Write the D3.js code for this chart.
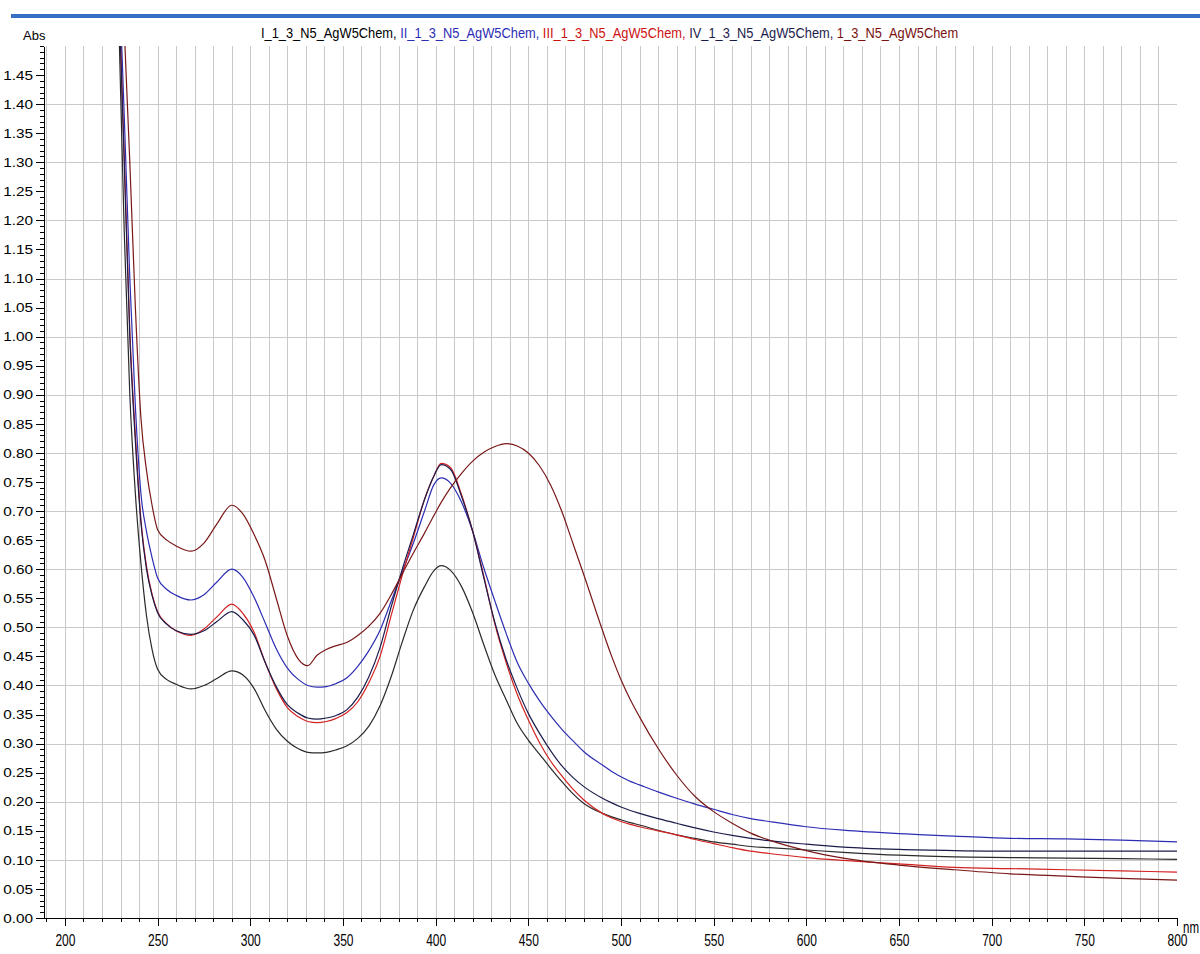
<!DOCTYPE html>
<html>
<head>
<meta charset="utf-8">
<script src="https://cdn.jsdelivr.net/npm/d3@7"></script>
<style>
  body { margin: 0; background: #fff; }
  svg { display: block; font-family: "Liberation Sans", Arial, sans-serif; }
  .grid line { stroke: #c9c9c9; stroke-width: 1; shape-rendering: crispEdges; }
  .axis path, .axis line { stroke: #000; shape-rendering: crispEdges; }
  .axis text { fill: #000; }
</style>
</head>
<body>
<div id="chart"></div>
<script>
// Wavelength grid (nm) shared by all spectra
var wavelengths = [226, 229, 232, 235, 238, 241, 244, 247, 250, 255, 260, 268, 275, 282, 290, 296,
    302, 308, 314, 320, 326, 331, 336, 341, 346, 352, 358, 364, 370, 376, 382, 388, 394, 399,
    403, 408, 414, 420, 426, 432, 438, 444, 450, 456, 462, 468, 474, 480, 490, 495, 500, 505, 510, 520,
    530, 540, 550, 560, 570, 580, 600, 620, 650, 680, 710, 740, 770, 800];

// Absorbance of each sample
var absI = [1.90, 1.55, 1.18, 0.90, 0.73, 0.61, 0.52, 0.462, 0.428, 0.410, 0.402, 0.394, 0.400, 0.412, 0.425, 0.418,
    0.395, 0.357, 0.325, 0.304, 0.291, 0.285, 0.284, 0.285, 0.289, 0.296, 0.309, 0.330, 0.365, 0.415, 0.475, 0.530, 0.570, 0.597,
    0.606, 0.598, 0.570, 0.525, 0.470, 0.418, 0.376, 0.335, 0.306, 0.282, 0.258, 0.235, 0.214, 0.197, 0.180, 0.174, 0.169, 0.164, 0.160, 0.151,
    0.143, 0.137, 0.131, 0.127, 0.123, 0.121, 0.117, 0.113, 0.108, 0.105, 0.104, 0.103, 0.102, 0.101];

var absII = [2.00, 1.65, 1.38, 1.10, 0.88, 0.73, 0.665, 0.620, 0.585, 0.565, 0.555, 0.547, 0.556, 0.578, 0.600, 0.586,
    0.552, 0.508, 0.463, 0.430, 0.410, 0.400, 0.397, 0.398, 0.403, 0.413, 0.433, 0.460, 0.495, 0.545, 0.595, 0.645, 0.700, 0.745,
    0.757, 0.748, 0.715, 0.665, 0.602, 0.545, 0.490, 0.440, 0.404, 0.374, 0.348, 0.325, 0.305, 0.286, 0.263, 0.252, 0.243, 0.235, 0.229, 0.217,
    0.206, 0.196, 0.187, 0.178, 0.171, 0.166, 0.157, 0.151, 0.145, 0.141, 0.137, 0.136, 0.134, 0.131];

var absIII = [1.95, 1.60, 1.31, 1.01, 0.83, 0.685, 0.605, 0.557, 0.527, 0.506, 0.494, 0.486, 0.497, 0.518, 0.540, 0.524,
    0.492, 0.440, 0.395, 0.362, 0.346, 0.338, 0.336, 0.338, 0.343, 0.353, 0.372, 0.405, 0.450, 0.520, 0.590, 0.655, 0.720, 0.760,
    0.782, 0.775, 0.728, 0.665, 0.588, 0.505, 0.440, 0.385, 0.341, 0.302, 0.270, 0.245, 0.222, 0.203, 0.180, 0.172, 0.166, 0.161, 0.157, 0.150,
    0.143, 0.135, 0.128, 0.121, 0.115, 0.111, 0.104, 0.099, 0.093, 0.087, 0.085, 0.083, 0.081, 0.079];

var absIV = [1.95, 1.60, 1.30, 1.00, 0.82, 0.68, 0.60, 0.555, 0.525, 0.505, 0.494, 0.488, 0.494, 0.510, 0.527, 0.513,
    0.487, 0.440, 0.398, 0.367, 0.352, 0.344, 0.342, 0.344, 0.348, 0.358, 0.380, 0.415, 0.465, 0.535, 0.600, 0.660, 0.720, 0.760,
    0.780, 0.772, 0.725, 0.665, 0.585, 0.508, 0.445, 0.395, 0.352, 0.318, 0.288, 0.262, 0.242, 0.226, 0.206, 0.198, 0.191, 0.185, 0.180, 0.171,
    0.163, 0.155, 0.148, 0.142, 0.137, 0.133, 0.127, 0.122, 0.118, 0.116, 0.115, 0.115, 0.115, 0.115];

var absV = [2.10, 1.80, 1.53, 1.30, 1.05, 0.86, 0.77, 0.71, 0.668, 0.650, 0.640, 0.631, 0.645, 0.678, 0.710, 0.695,
    0.660, 0.615, 0.550, 0.485, 0.445, 0.434, 0.452, 0.462, 0.468, 0.474, 0.486, 0.502, 0.524, 0.556, 0.592, 0.628, 0.662, 0.692,
    0.715, 0.740, 0.765, 0.786, 0.801, 0.811, 0.816, 0.812, 0.800, 0.778, 0.745, 0.700, 0.645, 0.590, 0.495, 0.450, 0.410, 0.376, 0.346, 0.292,
    0.246, 0.209, 0.183, 0.163, 0.146, 0.134, 0.116, 0.103, 0.091, 0.083, 0.076, 0.072, 0.068, 0.065];

var seriesNames = ['I_1_3_N5_AgW5Chem', 'II_1_3_N5_AgW5Chem', 'III_1_3_N5_AgW5Chem', 'IV_1_3_N5_AgW5Chem', '1_3_N5_AgW5Chem'];
var seriesValues = [absI, absII, absIII, absIV, absV];
var lineColors = ['#2a2a2a', '#2d2db4', '#d42222', '#1c1c4c', '#7a1818'];
var titleColors = ['#000000', '#2d2db4', '#cc1111', '#1c1c4c', '#7a1010'];

var xMajorTicks = d3.range(200, 801, 50);
var xMinorTicks = d3.range(190, 801, 10);
var yMajorTicks = d3.range(0, 30).map((i) => i * 5 / 100);
var yMinorTicks = d3.range(0, 151).map((i) => i / 100);
var xGridTicks = d3.range(190, 800, 10);
var yGridTicks = d3.range(1, 15).map((i) => i / 10);

var svgWidth = 1200;
var svgHeight = 954;

var svg = d3.select('#chart')
    .append('svg')
    .attr('width', svgWidth)
    .attr('height', svgHeight);

// Plot box
var plot = { left: 44, right: 1177, top: 46, bottom: 918 };

var xScale = d3.scaleLinear()
    .domain([188.7, 800])
    .range([plot.left, plot.right]);

var yScale = d3.scaleLinear()
    .domain([0, 1.5])
    .range([plot.bottom, plot.top]);

// Blue band at the top
svg.append('rect')
    .attr('x', 11)
    .attr('y', 14)
    .attr('width', svgWidth - 11)
    .attr('height', 4)
    .attr('fill', '#3570c6');

// Grid
var grid = svg.append('g').attr('class', 'grid');

grid.selectAll('.vgrid')
    .data(xGridTicks)
    .enter()
    .append('line')
    .attr('x1', (d) => Math.round(xScale(d)) + 0.5)
    .attr('x2', (d) => Math.round(xScale(d)) + 0.5)
    .attr('y1', plot.top)
    .attr('y2', plot.bottom);

grid.selectAll('.hgrid')
    .data(yGridTicks)
    .enter()
    .append('line')
    .attr('x1', plot.left)
    .attr('x2', plot.right)
    .attr('y1', (d) => Math.round(yScale(d)) + 0.5)
    .attr('y2', (d) => Math.round(yScale(d)) + 0.5);

// Spectra
svg.append('clipPath')
    .attr('id', 'plotClip')
    .append('rect')
    .attr('x', plot.left)
    .attr('y', plot.top)
    .attr('width', plot.right - plot.left)
    .attr('height', plot.bottom - plot.top);

var line = d3.line()
    .x((d) => xScale(d[0]))
    .y((d) => yScale(d[1]))
    .curve(d3.curveMonotoneX);

var lineGroup = svg.append('g').attr('clip-path', 'url(#plotClip)');

seriesValues.forEach((values, i) => {
    lineGroup.append('path')
        .datum(wavelengths.map((w, j) => [w, values[j]]))
        .attr('d', line)
        .attr('fill', 'none')
        .attr('stroke', lineColors[i])
        .attr('stroke-width', 1.2);
});

// Axes: minor ticks first, then the labelled major ticks
svg.append('g')
    .attr('class', 'axis')
    .attr('transform', `translate(0, ${plot.bottom})`)
    .call(d3.axisBottom(xScale).tickValues(xMinorTicks).tickSize(4).tickSizeOuter(0).tickFormat(''));

var xAxis = svg.append('g')
    .attr('class', 'axis')
    .attr('transform', `translate(0, ${plot.bottom})`)
    .call(d3.axisBottom(xScale).tickValues(xMajorTicks).tickSize(8).tickSizeOuter(0).tickFormat(d3.format('d')));

xAxis.selectAll('text')
    .attr('y', 16.5)
    .style('font-size', '16px')
    .attr('transform', 'scale(0.75, 1)');

svg.append('g')
    .attr('class', 'axis')
    .attr('transform', `translate(${plot.left}, 0)`)
    .call(d3.axisLeft(yScale).tickValues(yMinorTicks).tickSize(4).tickSizeOuter(0).tickFormat(''));

var yAxis = svg.append('g')
    .attr('class', 'axis')
    .attr('transform', `translate(${plot.left}, 0)`)
    .call(d3.axisLeft(yScale).tickValues(yMajorTicks).tickSize(8).tickSizeOuter(0).tickFormat(d3.format('.2f')));

yAxis.selectAll('text')
    .attr('x', 0)
    .style('font-size', '13px')
    .attr('transform', 'translate(-11, 0) scale(1.18, 1)');

// Axis units
svg.append('text')
    .attr('x', 23)
    .attr('y', 40)
    .style('font-size', '13px')
    .text('Abs');

svg.append('text')
    .attr('transform', 'translate(1183, 933) scale(0.72, 1)')
    .style('font-size', '16px')
    .text('nm');

// Title built from the sample names, squeezed to the reference width
var titleGroup = svg.append('g');

var title = titleGroup.append('text')
    .attr('x', 0)
    .attr('y', 0)
    .style('font-size', '14px');

seriesNames.forEach((name, i) => {
    title.append('tspan')
        .attr('fill', titleColors[i])
        .text(name + (i < seriesNames.length - 1 ? ', ' : ''));
});

var titleWidth = title.node().getComputedTextLength();
titleGroup.attr('transform', `translate(261, 38) scale(${698 / titleWidth}, 1)`);
</script>
</body>
</html>
